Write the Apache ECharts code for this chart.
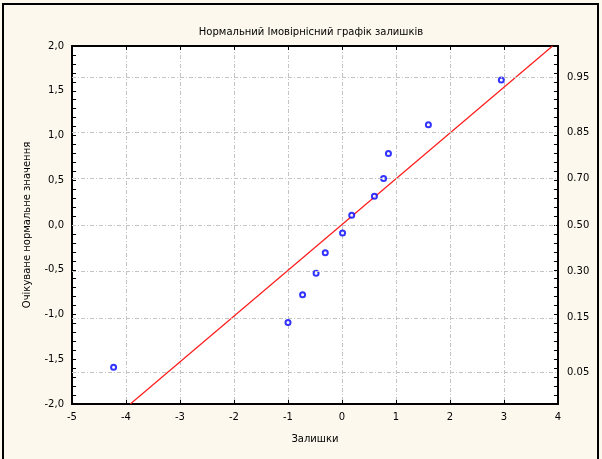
<!DOCTYPE html>
<html>
<head>
<meta charset="utf-8">
<script src="https://cdn.jsdelivr.net/npm/echarts@6/dist/echarts.min.js"></script>
<style>
  html, body { margin: 0; padding: 0; background: #fdf8ed; }
  #chart { width: 602px; height: 459px; }
</style>
</head>
<body>
<div id="chart"></div>
<script>
// Residuals and their expected normal values
const residuals = [-4.23, -1.00, -0.73, -0.48, -0.31, 0.01, 0.18, 0.60, 0.77, 0.86, 1.60, 2.95];
const expectedNormal = [-1.59, -1.09, -0.78, -0.54, -0.31, -0.09, 0.11, 0.32, 0.52, 0.80, 1.12, 1.62];

// Reference line end points
const refLineX = [-3.92, 3.90];
const refLineY = [-2.0, 2.0];

// Right-hand probability scale: labels and their normal quantiles
const probLabels = ['0.05', '0.15', '0.30', '0.50', '0.70', '0.85', '0.95'];
const probZ = [-1.645, -1.036, -0.524, 0, 0.524, 1.036, 1.645];

const FONT = 'DejaVu Sans, Verdana, sans-serif';
const gridLine = { color: '#c4c4c4', width: 1, type: [4, 2, 1, 2] };

const chart = echarts.init(document.getElementById('chart'), null, { renderer: 'canvas' });

chart.setOption({
  backgroundColor: '#fdf8ed',
  animation: false,
  title: {
    text: 'Нормальний Імовірнісний графік залишків',
    left: 306,
    textAlign: 'center',
    top: 22,
    textStyle: { fontFamily: FONT, fontSize: 10, fontWeight: 'normal', color: '#000' }
  },
  graphic: [{
    type: 'rect',
    shape: { x: 3, y: 4, width: 595, height: 470 },
    style: { fill: 'none', stroke: '#000', lineWidth: 2 },
    silent: true
  }],
  grid: {
    left: 72, right: 44, top: 46, bottom: 55,
    show: true, backgroundColor: '#ffffff', borderColor: '#000', borderWidth: 1
  },
  xAxis: [{
    type: 'value', min: -5, max: 4, interval: 1, position: 'bottom',
    name: 'Залишки', nameLocation: 'middle', nameGap: 30,
    nameTextStyle: { fontFamily: FONT, fontSize: 10, color: '#000' },
    axisLine: { show: true, onZero: false, lineStyle: { color: '#000', width: 2 } },
    axisTick: { show: true, inside: true, length: 4, lineStyle: { color: '#000' } },
    axisLabel: { fontFamily: FONT, fontSize: 10, color: '#000', margin: 8 },
    splitLine: { show: true, lineStyle: gridLine }
  }, {
    type: 'value', min: -5, max: 4, interval: 1, position: 'top',
    axisLine: { show: true, onZero: false, lineStyle: { color: '#000', width: 2 } },
    axisTick: { show: true, inside: true, length: 4, lineStyle: { color: '#000' } },
    axisLabel: { show: false },
    splitLine: { show: false }
  }],
  yAxis: [{
    type: 'value', min: -2, max: 2, interval: 0.5, position: 'left',
    name: 'Очікуване нормальне значення', nameLocation: 'middle', nameGap: 40, nameRotate: 90,
    nameTextStyle: { fontFamily: FONT, fontSize: 10, color: '#000' },
    axisLine: { show: true, onZero: false, lineStyle: { color: '#000', width: 2 } },
    axisTick: { show: true, inside: true, length: 4, lineStyle: { color: '#000' } },
    minorTick: { show: true, splitNumber: 5, length: 4, lineStyle: { color: '#000' } },
    axisLabel: {
      fontFamily: FONT, fontSize: 10, color: '#000', margin: 8,
      formatter: v => v.toFixed(1).replace('.', ',')
    },
    splitLine: { show: false }
  }, {
    type: 'value', min: -2, max: 2, interval: 0.1, position: 'right',
    axisLine: { show: true, onZero: false, lineStyle: { color: '#000', width: 2 } },
    axisTick: { show: true, inside: true, length: 4, lineStyle: { color: '#000' } },
    axisLabel: {
      fontFamily: FONT, fontSize: 10, color: '#000', margin: 9,
      customValues: probZ,
      formatter: v => {
        const i = probZ.findIndex(z => Math.abs(z - v) < 1e-6);
        return i >= 0 ? probLabels[i] : '';
      }
    },
    splitLine: { show: false }
  }],
  series: [{
    // horizontal grid at the probability levels
    type: 'line', data: [], z: 1, silent: true,
    markLine: {
      silent: true, symbol: 'none', label: { show: false },
      lineStyle: gridLine,
      data: probZ.map(z => ({ yAxis: z }))
    }
  }, {
    type: 'line', z: 2, silent: true,
    data: refLineX.map((x, i) => [x, refLineY[i]]),
    showSymbol: false, symbol: 'none',
    lineStyle: { color: '#ff1a1a', width: 1.2 }
  }, {
    type: 'scatter', z: 3,
    data: residuals.map((x, i) => [x, expectedNormal[i]]),
    symbol: 'emptyCircle', symbolSize: 5,
    itemStyle: { color: '#0000ff', borderColor: '#0000ff', borderWidth: 1.2 }
  }]
});
</script>
</body>
</html>
